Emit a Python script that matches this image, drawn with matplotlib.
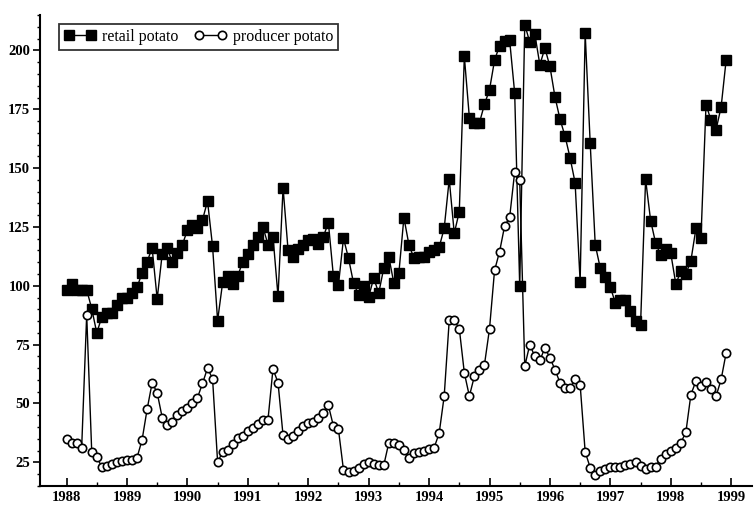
import numpy as np
import matplotlib.pyplot as plt
from matplotlib.ticker import MultipleLocator

# monthly prices, Jan 1988 - Dec 1998
retail = [98.3, 100.8, 98.0, 98.3, 98.3, 90.3, 80.0, 86.7, 88.4, 88.4, 92.0, 94.8,
          94.8, 96.9, 99.4, 105.4, 110.3, 116.0, 94.4, 113.6, 116.0, 110.0, 114.1, 117.4,
          123.7, 125.8, 124.4, 128.0, 136.0, 116.7, 85.2, 101.4, 104.0, 100.8, 104.2, 110.3,
          113.4, 117.4, 120.9, 125.1, 117.5, 120.9, 95.5, 141.7, 115.0, 112.4, 115.5, 117.4,
          119.5, 119.8, 117.7, 120.9, 126.8, 104.0, 100.4, 120.2, 111.7, 101.1, 96.2, 99.7,
          95.2, 103.3, 96.9, 107.5, 112.4, 101.1, 105.4, 129.0, 117.4, 111.7, 112.4, 112.1,
          114.5, 115.3, 116.4, 124.4, 145.3, 122.3, 131.5, 197.5, 171.5, 169.0, 169.3, 177.1,
          183.3, 195.8, 202.1, 204.0, 204.3, 181.9, 99.7, 211.0, 203.5, 207.0, 193.9, 201.0,
          193.2, 180.3, 170.8, 163.6, 154.4, 143.8, 101.6, 207.3, 160.5, 117.4, 107.5, 103.7,
          99.4, 92.7, 94.0, 93.8, 89.1, 85.0, 83.5, 145.2, 127.7, 118.1, 113.1, 115.5,
          113.8, 100.8, 106.1, 105.0, 110.7, 124.4, 120.5, 177.0, 170.3, 166.4, 176.0, 196.0]

producer = [34.7, 33.3, 33.3, 31.0, 87.7, 29.4, 27.3, 23.0, 23.5, 24.2, 25.0, 25.5,
            26.0, 26.0, 27.0, 34.5, 47.5, 58.8, 54.5, 44.0, 40.7, 42.3, 45.3, 47.0,
            48.2, 50.3, 52.4, 58.5, 65.0, 60.5, 25.1, 29.4, 30.2, 32.6, 35.5, 36.1,
            38.3, 39.7, 41.1, 43.0, 43.0, 64.7, 58.8, 36.4, 35.0, 36.1, 38.3, 40.4,
            41.5, 42.1, 44.0, 46.1, 49.2, 40.4, 39.0, 21.7, 20.9, 21.3, 22.7, 24.2,
            25.3, 24.2, 23.7, 23.7, 33.3, 33.3, 32.2, 30.2, 27.0, 28.8, 29.5, 29.7,
            30.5, 31.2, 37.3, 53.1, 85.3, 85.3, 81.8, 63.0, 53.1, 61.6, 64.1, 66.5,
            81.7, 106.5, 114.5, 125.4, 129.1, 148.4, 144.9, 65.8, 75.0, 70.0, 68.3, 73.6,
            69.4, 64.4, 58.8, 56.6, 56.6, 60.2, 58.0, 29.4, 22.7, 19.5, 21.3, 22.3,
            23.0, 23.2, 23.2, 23.7, 24.2, 25.3, 23.4, 22.0, 23.2, 23.2, 26.6, 28.4,
            29.8, 31.2, 33.3, 37.8, 53.8, 59.5, 57.4, 59.1, 56.0, 53.1, 60.2, 71.5]

years = np.arange(1988, 2000)
t = 1988 + np.arange(len(retail)) / 12.0

plt.rcParams['font.family'] = ['Liberation Serif', 'DejaVu Serif']

fig = plt.figure(figsize=(7.54, 5.05), dpi=100)
ax = fig.add_axes([0.053, 0.038, 0.944, 0.932])

ax.plot(t, retail, '-', color='black', lw=1.0, marker='s', ms=6.5,
        mfc='black', mec='black', label='retail potato')
ax.plot(t, producer, '-', color='black', lw=1.0, marker='o', ms=6,
        mfc='white', mec='black', mew=1.2, label='producer potato')

ax.set_xlim(1987.56, 1999.34)
ax.set_ylim(15, 215)
ax.set_xticks(years)
ax.set_xticklabels([str(y) for y in years], fontsize=10.5, fontweight='bold')
ax.xaxis.set_minor_locator(MultipleLocator(0.5))
ax.yaxis.set_minor_locator(MultipleLocator(5))
ax.set_yticks([25, 50, 75, 100, 125, 150, 175, 200])
for lab in ax.get_yticklabels():
    lab.set_fontsize(10.5)
    lab.set_fontweight('bold')

ax.tick_params(axis='x', which='major', direction='in', length=6, width=1.2, pad=4)
ax.tick_params(axis='x', which='minor', direction='in', length=3, width=1)
ax.tick_params(axis='y', which='major', direction='out', length=5, width=1.2, pad=2)
ax.tick_params(axis='y', which='minor', direction='out', length=2.5, width=1)

ax.spines['top'].set_visible(False)
ax.spines['right'].set_visible(False)
ax.spines['left'].set_linewidth(1.5)
ax.spines['bottom'].set_linewidth(1.5)

leg = ax.legend(loc='upper left', bbox_to_anchor=(0.027, 0.981), ncol=2, numpoints=2,
                fontsize=11.5, frameon=True, fancybox=False, handlelength=2.0,
                columnspacing=1.0, handletextpad=0.4, borderpad=0.3, borderaxespad=0)
leg.get_frame().set_edgecolor('black')
leg.get_frame().set_linewidth(1.3)

fig.savefig('out.png', dpi=100)
